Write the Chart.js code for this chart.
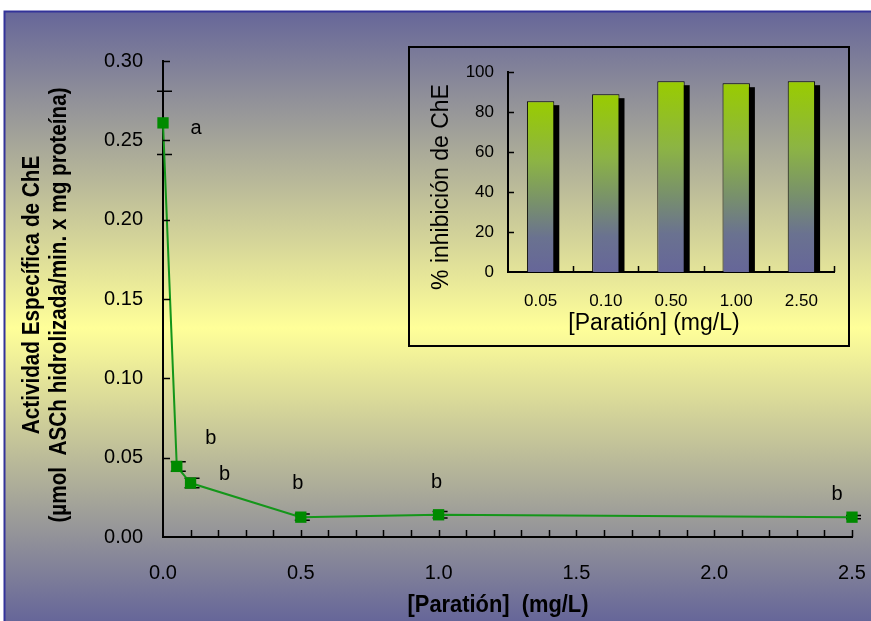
<!DOCTYPE html>
<html>
<head>
<meta charset="utf-8">
<style>
  html, body { margin: 0; padding: 0; background: #fff; }
  #wrap { position: relative; width: 871px; height: 621px; }
  #main { position: absolute; left: 0; top: 0; }
  #insetBox { position: absolute; left: 408px; top: 46px; width: 442px; height: 301px;
              border: 2px solid #000; box-sizing: border-box; }
  #inset { display: block; }
</style>
<script src="https://cdn.jsdelivr.net/npm/chart.js@4.4.0/dist/chart.umd.min.js"></script>
</head>
<body>
<div id="wrap">
  <canvas id="main" width="871" height="621"></canvas>
  <div id="insetBox"><canvas id="inset" width="438" height="297"></canvas></div>
</div>
<script>
  // Specific ChE activity vs parathion concentration
  const doseMg = [0, 0.05, 0.1, 0.5, 1.0, 2.5];
  const activity = [0.261, 0.0445, 0.034, 0.0125, 0.014, 0.0125];
  const activityErr = [0.020, 0.003, 0.003, 0.002, 0.002, 0.001];
  const groupLetters = ['a', 'b', 'b', 'b', 'b', 'b'];

  // Inset: % inhibition per concentration
  const insetDoses = ['0.05', '0.10', '0.50', '1.00', '2.50'];
  const inhibition = [85.5, 89, 95.5, 94.5, 95.5];

  const regular = "'Liberation Sans', Arial, sans-serif";

  // pixel offsets of the significance letters from their points
  const letterOffsets = [[33, 6], [34, -28], [34, -9], [-3, -34], [-2, -32], [-15, -23]];

  const panelBackground = {
    id: 'panelBackground',
    beforeDraw(chart) {
      const { ctx, width, height } = chart;
      ctx.save();
      ctx.fillStyle = '#fff';
      ctx.fillRect(0, 0, width, height);
      const g = ctx.createLinearGradient(0, 11, 0, height);
      g.addColorStop(0, '#666699');
      g.addColorStop(0.52, '#ffff99');
      g.addColorStop(1, '#666699');
      ctx.fillStyle = g;
      ctx.fillRect(4, 11, width - 4, height - 11);
      ctx.strokeStyle = '#333399';
      ctx.lineWidth = 2;
      ctx.beginPath();
      ctx.moveTo(4.5, height);
      ctx.lineTo(4.5, 11.5);
      ctx.lineTo(width, 11.5);
      ctx.stroke();
      ctx.restore();
    }
  };

  const errorBars = {
    id: 'errorBars',
    beforeDatasetsDraw(chart) {
      const { ctx, scales: { x, y } } = chart;
      ctx.save();
      ctx.strokeStyle = '#000';
      ctx.lineWidth = 1.5;
      doseMg.forEach((d, i) => {
        const px = x.getPixelForValue(d);
        const top = y.getPixelForValue(activity[i] + activityErr[i]);
        const bot = y.getPixelForValue(activity[i] - activityErr[i]);
        ctx.beginPath();
        ctx.moveTo(px, top); ctx.lineTo(px, bot);
        ctx.moveTo(px - 6, top); ctx.lineTo(px + 9, top);
        ctx.moveTo(px - 6, bot); ctx.lineTo(px + 9, bot);
        ctx.stroke();
      });
      ctx.restore();
    }
  };

  // tick marks pointing into the plot
  const mainTicks = {
    id: 'mainTicks',
    afterDraw(chart) {
      const { ctx, scales: { x, y } } = chart;
      ctx.save();
      ctx.strokeStyle = '#000';
      ctx.lineWidth = 1.5;
      ctx.beginPath();
      for (let i = 1; i <= 6; i++) {
        const py = Math.round(y.getPixelForValue(i * 0.05)) + 0.5;
        ctx.moveTo(x.left, py); ctx.lineTo(x.left + 7, py);
      }
      for (let i = 1; i <= 25; i++) {
        const px = Math.round(x.getPixelForValue(i / 10)) + 0.5;
        ctx.moveTo(px, y.bottom); ctx.lineTo(px, y.bottom - 7);
      }
      ctx.stroke();
      ctx.restore();
    }
  };

  const letters = {
    id: 'letters',
    afterDatasetsDraw(chart) {
      const { ctx, scales: { x, y } } = chart;
      ctx.save();
      ctx.fillStyle = '#000';
      ctx.font = '20px ' + regular;
      ctx.textAlign = 'center';
      ctx.textBaseline = 'middle';
      groupLetters.forEach((t, i) => {
        const [dx, dy] = letterOffsets[i];
        ctx.fillText(t, x.getPixelForValue(doseMg[i]) + dx, y.getPixelForValue(activity[i]) + dy);
      });
      ctx.restore();
    }
  };

  // condensed bold text: squeeze along the reading direction
  function narrowText(ctx, text, x, y, angle, squeeze) {
    ctx.save();
    ctx.translate(x, y);
    ctx.rotate(angle);
    ctx.scale(squeeze, 1);
    ctx.fillText(text, 0, 0);
    ctx.restore();
  }

  const mainTitles = {
    id: 'mainTitles',
    afterDraw(chart) {
      const { ctx } = chart;
      ctx.save();
      ctx.fillStyle = '#000';
      ctx.textAlign = 'center';
      ctx.textBaseline = 'middle';
      ctx.font = 'bold 23px ' + regular;
      narrowText(ctx, '[Paratión]  (mg/L)', 498, 606, 0, 0.95);
      narrowText(ctx, 'Actividad Específica de ChE', 33, 295, -Math.PI / 2, 0.9);
      narrowText(ctx, '(µmol  ASCh hidrolizada/min. x mg proteína)', 60, 305, -Math.PI / 2, 0.9);
      ctx.restore();
    }
  };

  new Chart(document.getElementById('main'), {
    type: 'line',
    data: {
      datasets: [{
        data: doseMg.map((d, i) => ({ x: d, y: activity[i] })),
        borderColor: '#14961a',
        borderWidth: 2,
        tension: 0,
        pointStyle: 'rect',
        pointRadius: 8,
        pointBackgroundColor: '#008a00',
        pointBorderColor: '#008a00',
        pointBorderWidth: 0,
        clip: false
      }]
    },
    options: {
      responsive: false,
      animation: false,
      events: [],
      layout: { padding: { top: 61, right: 19, bottom: 0, left: 0 } },
      plugins: { legend: { display: false }, tooltip: { enabled: false } },
      scales: {
        x: {
          type: 'linear', min: 0, max: 2.5,
          afterFit(s) { s.height = 84; s.paddingLeft = 0; s.paddingRight = 0; },
          grid: { display: false, drawTicks: false },
          border: { display: true, color: '#000', width: 2 },
          ticks: { stepSize: 0.5, padding: 24, color: '#000', font: { family: regular, size: 20 },
                   callback: v => v.toFixed(1) }
        },
        y: {
          min: 0, max: 0.3,
          afterFit(s) { s.width = 163; },
          grid: { display: false, drawTicks: false },
          border: { display: true, color: '#000', width: 2 },
          ticks: { stepSize: 0.05, padding: 20, color: '#000', font: { family: regular, size: 20 },
                   callback: v => v.toFixed(2) }
        }
      }
    },
    plugins: [panelBackground, errorBars, mainTicks, letters, mainTitles]
  });

  // ---- inset bar chart ----
  function barGradient(c) {
    const { chart, parsed } = c;
    if (!chart.chartArea || !parsed) return '#99cc00';
    const y = chart.scales.y;
    const g = chart.ctx.createLinearGradient(0, y.getPixelForValue(parsed.y), 0, y.getPixelForValue(0));
    g.addColorStop(0, '#99cc00');
    g.addColorStop(0.35, '#8cb444');
    g.addColorStop(0.6, '#78906c');
    g.addColorStop(0.8, '#6a7290');
    g.addColorStop(1, '#666699');
    return g;
  }

  const barShadow = {
    id: 'barShadow',
    beforeDatasetsDraw(chart) {
      const { ctx } = chart;
      ctx.save();
      ctx.fillStyle = '#000';
      chart.getDatasetMeta(0).data.forEach(el => {
        const { x, y, base, width } = el.getProps(['x', 'y', 'base', 'width'], true);
        ctx.fillRect(x - width / 2 + 5, y + 4, width, base - y - 4);
      });
      ctx.restore();
    }
  };

  const insetTicks = {
    id: 'insetTicks',
    afterDraw(chart) {
      const { ctx, scales: { x, y } } = chart;
      ctx.save();
      ctx.strokeStyle = '#000';
      ctx.lineWidth = 1.5;
      ctx.beginPath();
      for (let v = 20; v <= 100; v += 20) {
        const py = Math.round(y.getPixelForValue(v)) + 0.5;
        ctx.moveTo(x.left, py); ctx.lineTo(x.left + 6, py);
      }
      const n = insetDoses.length;
      for (let i = 1; i <= n; i++) {
        const px = Math.round(x.left + i * (x.right - x.left) / n) + 0.5;
        ctx.moveTo(px, y.bottom); ctx.lineTo(px, y.bottom - 6);
      }
      ctx.stroke();
      ctx.restore();
    }
  };

  const insetTitles = {
    id: 'insetTitles',
    afterDraw(chart) {
      const { ctx } = chart;
      ctx.save();
      ctx.fillStyle = '#000';
      ctx.textAlign = 'center';
      ctx.textBaseline = 'middle';
      ctx.font = '23px ' + regular;
      ctx.fillText('[Paratión] (mg/L)', 244, 276);
      ctx.translate(32, 139);
      ctx.rotate(-Math.PI / 2);
      ctx.fillText('% inhibición de ChE', 0, 0);
      ctx.restore();
    }
  };

  new Chart(document.getElementById('inset'), {
    type: 'bar',
    data: {
      labels: insetDoses,
      datasets: [{
        data: inhibition,
        backgroundColor: barGradient,
        borderColor: '#000',
        borderWidth: 1,
        barPercentage: 0.42,
        categoryPercentage: 1
      }]
    },
    options: {
      responsive: false,
      animation: false,
      events: [],
      layout: { padding: { top: 15, right: 14, bottom: 0, left: 0 } },
      plugins: { legend: { display: false }, tooltip: { enabled: false } },
      scales: {
        x: {
          afterFit(s) { s.height = 73; },
          grid: { display: false, drawTicks: false },
          border: { display: true, color: '#000', width: 2 },
          ticks: { padding: 19, color: '#000', font: { family: regular, size: 17 } }
        },
        y: {
          min: 0, max: 100,
          afterFit(s) { s.width = 98; },
          grid: { display: false, drawTicks: false },
          border: { display: true, color: '#000', width: 2 },
          ticks: { stepSize: 20, padding: 14, color: '#000', font: { family: regular, size: 17 } }
        }
      }
    },
    plugins: [barShadow, insetTicks, insetTitles]
  });
</script>
</body>
</html>
